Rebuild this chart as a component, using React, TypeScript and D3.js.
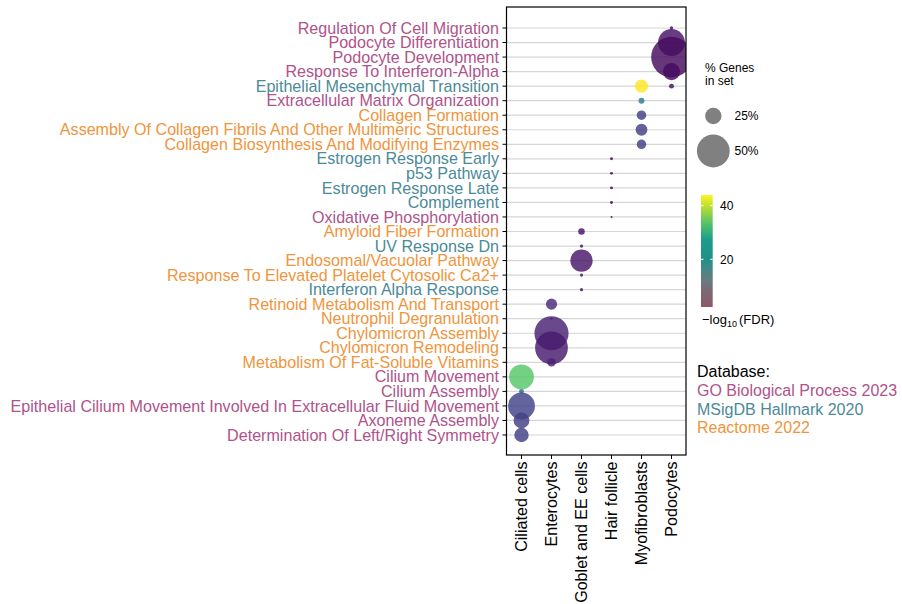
import React from 'react';
import * as d3 from 'd3';

// Cell types on the x axis
const cellTypes = [
  'Ciliated cells',
  'Enterocytes',
  'Goblet and EE cells',
  'Hair follicle',
  'Myofibroblasts',
  'Podocytes',
];

// Enriched terms, top to bottom
const terms = [
  'Regulation Of Cell Migration',
  'Podocyte Differentiation',
  'Podocyte Development',
  'Response To Interferon-Alpha',
  'Epithelial Mesenchymal Transition',
  'Extracellular Matrix Organization',
  'Collagen Formation',
  'Assembly Of Collagen Fibrils And Other Multimeric Structures',
  'Collagen Biosynthesis And Modifying Enzymes',
  'Estrogen Response Early',
  'p53 Pathway',
  'Estrogen Response Late',
  'Complement',
  'Oxidative Phosphorylation',
  'Amyloid Fiber Formation',
  'UV Response Dn',
  'Endosomal/Vacuolar Pathway',
  'Response To Elevated Platelet Cytosolic Ca2+',
  'Interferon Alpha Response',
  'Retinoid Metabolism And Transport',
  'Neutrophil Degranulation',
  'Chylomicron Assembly',
  'Chylomicron Remodeling',
  'Metabolism Of Fat-Soluble Vitamins',
  'Cilium Movement',
  'Cilium Assembly',
  'Epithelial Cilium Movement Involved In Extracellular Fluid Movement',
  'Axoneme Assembly',
  'Determination Of Left/Right Symmetry',
];

// Source database index for each term (0 = GO, 1 = MSigDB, 2 = Reactome)
const termDatabase = [
  0, 0, 0, 0, 1, 0, 2, 2, 2, 1, 1, 1, 1, 0, 2, 1, 2, 2, 1, 2, 2, 2, 2, 2, 0, 0, 0, 0, 0,
];

const databases = ['GO Biological Process 2023', 'MSigDB Hallmark 2020', 'Reactome 2022'];
const databaseColors = ['#b0538a', '#4b8a98', '#ef953c'];

// Enrichment hits: term, cell type, % genes in set, -log10(FDR)
const hitTerms = [
  'Regulation Of Cell Migration',
  'Podocyte Differentiation',
  'Podocyte Development',
  'Response To Interferon-Alpha',
  'Epithelial Mesenchymal Transition',
  'Epithelial Mesenchymal Transition',
  'Extracellular Matrix Organization',
  'Collagen Formation',
  'Assembly Of Collagen Fibrils And Other Multimeric Structures',
  'Collagen Biosynthesis And Modifying Enzymes',
  'Estrogen Response Early',
  'p53 Pathway',
  'Estrogen Response Late',
  'Complement',
  'Oxidative Phosphorylation',
  'Amyloid Fiber Formation',
  'UV Response Dn',
  'Endosomal/Vacuolar Pathway',
  'Response To Elevated Platelet Cytosolic Ca2+',
  'Interferon Alpha Response',
  'Retinoid Metabolism And Transport',
  'Neutrophil Degranulation',
  'Chylomicron Assembly',
  'Chylomicron Remodeling',
  'Metabolism Of Fat-Soluble Vitamins',
  'Cilium Movement',
  'Cilium Assembly',
  'Epithelial Cilium Movement Involved In Extracellular Fluid Movement',
  'Axoneme Assembly',
  'Determination Of Left/Right Symmetry',
];
const hitCells = [
  'Podocytes', 'Podocytes', 'Podocytes', 'Podocytes', 'Podocytes',
  'Myofibroblasts', 'Myofibroblasts', 'Myofibroblasts', 'Myofibroblasts', 'Myofibroblasts',
  'Hair follicle', 'Hair follicle', 'Hair follicle', 'Hair follicle', 'Hair follicle',
  'Goblet and EE cells', 'Goblet and EE cells', 'Goblet and EE cells', 'Goblet and EE cells', 'Goblet and EE cells',
  'Enterocytes', 'Enterocytes', 'Enterocytes', 'Enterocytes', 'Enterocytes',
  'Ciliated cells', 'Ciliated cells', 'Ciliated cells', 'Ciliated cells', 'Ciliated cells',
];
const hitGenePct = [
  5, 41, 62, 26, 7.5,
  20, 9, 14.5, 18, 14.5,
  4.5, 4.5, 4.5, 4.5, 3,
  10, 5, 34, 5, 5,
  17, 3.5, 52, 50, 13,
  38, 7.5, 41, 24, 22,
];
const hitNegLogFdr = [
  3, 4, 3.5, 3.5, 4,
  44, 20, 10, 10, 10,
  2.5, 2.5, 2.5, 2.5, 2.2,
  4, 4, 4.5, 4, 4,
  7, 5, 6, 5, 6,
  33, 17, 10.5, 10, 10,
];

// Legend entries
const sizeLegendPct = [25, 50];
const colorbarTicks = [20, 40];
const colorbarStops = [
  { v: 2.2, c: '#8e5868' },
  { v: 7, c: '#7f6672' },
  { v: 12, c: '#6a7a7e' },
  { v: 17, c: '#3f8a88' },
  { v: 20, c: '#22908a' },
  { v: 27, c: '#1c9a8a' },
  { v: 31, c: '#3cb478' },
  { v: 35, c: '#6ccb5c' },
  { v: 40, c: '#c2df2e' },
  { v: 44, c: '#fdf424' },
];

const FONT = '"Liberation Sans", Arial, Helvetica, sans-serif';

export default function App() {
  const panel = { left: 506.5, right: 686, top: 7, bottom: 455 };

  const x = d3.scalePoint<string>().domain(cellTypes).range([521.5, 671.5]);
  const y = d3.scalePoint<string>().domain(terms).range([28, 435]);
  const r = d3.scaleLinear().domain([0, 50]).range([0, 16.4]);
  const fdrExtent = d3.extent(hitNegLogFdr) as [number, number];
  const color = d3.scaleSequential(d3.interpolateViridis).domain(fdrExtent);

  const hits = hitTerms.map((t, i) => ({
    term: t,
    cell: hitCells[i],
    pct: hitGenePct[i],
    fdr: hitNegLogFdr[i],
  }));

  // colour bar
  const cb = { x: 701, w: 11.7, top: 195, bottom: 307 };
  const cbY = d3.scaleLinear().domain(fdrExtent).range([cb.bottom, cb.top]);
  const cbSpan = fdrExtent[1] - fdrExtent[0];

  return (
    <svg
      width={902}
      height={604}
      style={{ position: 'absolute', left: 0, top: 0, background: '#fff' }}
      fontFamily={FONT}
    >
      <defs>
        <clipPath id="panel-clip">
          <rect
            x={panel.left}
            y={panel.top}
            width={panel.right - panel.left}
            height={panel.bottom - panel.top}
          />
        </clipPath>
        <linearGradient id="fdr-grad" x1="0" y1="1" x2="0" y2="0">
          {colorbarStops.map((s, i) => (
            <stop key={i} offset={(s.v - fdrExtent[0]) / cbSpan} stopColor={s.c} />
          ))}
        </linearGradient>
      </defs>

      <rect width={902} height={604} fill="#fff" />

      {/* horizontal grid lines */}
      {terms.map((t) => (
        <line
          key={t}
          x1={panel.left}
          x2={panel.right}
          y1={y(t)}
          y2={y(t)}
          stroke="#d6d6d6"
          strokeWidth={1.2}
        />
      ))}

      {/* bubbles */}
      <g clipPath="url(#panel-clip)">
        {hits.map((h, i) => (
          <circle
            key={i}
            cx={x(h.cell)}
            cy={y(h.term)}
            r={r(h.pct)}
            fill={color(h.fdr)}
            fillOpacity={0.82}
          />
        ))}
      </g>

      {/* panel border */}
      <rect
        x={panel.left}
        y={panel.top}
        width={panel.right - panel.left}
        height={panel.bottom - panel.top}
        fill="none"
        stroke="#000"
        strokeWidth={1.2}
      />

      {/* y axis */}
      {terms.map((t, i) => (
        <g key={t}>
          <line x1={panel.left - 4} x2={panel.left} y1={y(t)} y2={y(t)} stroke="#000" strokeWidth={1} />
          <text
            x={499}
            y={y(t)}
            dy="0.35em"
            textAnchor="end"
            fontSize={16.1}
            fill={databaseColors[termDatabase[i]]}
          >
            {t}
          </text>
        </g>
      ))}

      {/* x axis */}
      {cellTypes.map((c) => (
        <g key={c}>
          <line x1={x(c)} x2={x(c)} y1={panel.bottom} y2={panel.bottom + 4} stroke="#000" strokeWidth={1} />
          <text
            transform={`translate(${x(c)},${panel.bottom + 6.5}) rotate(-90)`}
            dy="0.33em"
            textAnchor="end"
            fontSize={16.1}
            fill="#000"
          >
            {c}
          </text>
        </g>
      ))}

      {/* size legend */}
      <text x={705} y={72} fontSize={12} fill="#000">% Genes</text>
      <text x={705} y={84.5} fontSize={12} fill="#000">in set</text>
      {sizeLegendPct.map((p, i) => {
        const cy = [116, 151][i];
        return (
          <g key={p}>
            <circle cx={713.3} cy={cy} r={r(p)} fill="#808080" />
            <text x={734.5} y={cy} dy="0.35em" fontSize={12} fill="#000">{`${p}%`}</text>
          </g>
        );
      })}

      {/* colour bar */}
      <rect x={cb.x} y={cb.top} width={cb.w} height={cb.bottom - cb.top} fill="url(#fdr-grad)" />
      {colorbarTicks.map((t) => (
        <g key={t}>
          <line x1={cb.x} x2={cb.x + 2.5} y1={cbY(t)} y2={cbY(t)} stroke="#fff" strokeWidth={1} />
          <line x1={cb.x + cb.w - 2.5} x2={cb.x + cb.w} y1={cbY(t)} y2={cbY(t)} stroke="#fff" strokeWidth={1} />
          <text x={720} y={cbY(t)} dy="0.36em" fontSize={12} fill="#000">{t}</text>
        </g>
      ))}
      <text x={702} y={324} fontSize={13} fill="#000">
        <tspan>−log</tspan>
        <tspan fontSize={9} dy={2.8}>10</tspan>
        <tspan dy={-2.8} dx={2}>(FDR)</tspan>
      </text>

      {/* database legend */}
      <text x={697} y={377} fontSize={16} fill="#000">Database:</text>
      {databases.map((d, i) => (
        <text key={d} x={697} y={396 + i * 18.6} fontSize={16} fill={databaseColors[i]}>
          {d}
        </text>
      ))}
    </svg>
  );
}
